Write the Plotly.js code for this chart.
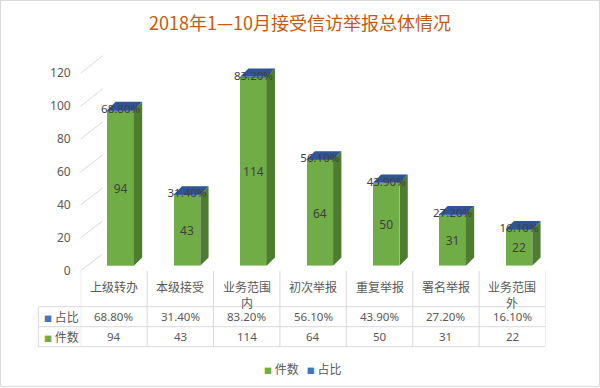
<!DOCTYPE html>
<html><head><meta charset="utf-8">
<script src="https://cdn.plot.ly/plotly-3.0.1.min.js"></script>
<style>html,body{margin:0;padding:0;background:#fff}</style>
</head><body><div id="chart" style="width:600px;height:388px"></div>
<script>
// ---- data ----
const categories = ['上级转办','本级接受','业务范围内','初次举报','重复举报','署名举报','业务范围外'];
const categoryLabels = ['上级转办','本级接受','业务范围<br>内','初次举报','重复举报','署名举报','业务范围<br>外'];
const counts = [94, 43, 114, 64, 50, 31, 22];
const sharePct = [68.8, 31.4, 83.2, 56.1, 43.9, 27.2, 16.1];
const yTicks = [0, 20, 40, 60, 80, 100, 120];
const seriesNames = ['件数', '占比'];
const titleText = '2018年1—10月接受信访举报总体情况';

// ---- styling / geometry ----
const W = 600, H = 388;
const fx = p => p / W, fy = p => 1 - p / H;
const GREEN = '#70AD47', GREEN_SIDE = '#4E7D31', BLUE = '#4472C4', BLUE_TOP = '#2F5597';
const GRID = '#D9D9D9', TXT = '#595959', DARK = '#404040';
const NUMFONT = 'Noto Sans, Noto Sans CJK SC, sans-serif';
const CJKFONT = 'Noto Sans CJK SC, sans-serif';
const N = categories.length;
const COLW = 66.4;
// planes (pixel origin of value 0 / left edge, and scale px per unit)
const front = {x0: 80.7, y0: 270.7, s: 1.645};
const bar = {x0: 87.4, y0: 265.7, s: 1.645};
const back = {x0: 102.7, y0: 254.0, s: 1.6525};
const R = 125;
const dom = p => ({x: [fx(p.x0), fx(p.x0 + COLW * N)], y: [fy(p.y0), fy(p.y0 - p.s * R)]});
const dFront = dom(front), dBar = dom(bar), dBack = dom(back);
const barW = 0.4;
const dxu = 8.3 / COLW, dyu = 8.3 / bar.s;

const shares = sharePct.map(v => v / 100);
const totals = counts.map((c, i) => c + shares[i]);
const idx = categories.map((_, i) => i);

const traces = [];
// side faces and top faces (3D look)
idx.forEach(i => {
  const xr = i + barW / 2, xl = i - barW / 2, t = totals[i];
  traces.push({type: 'scatter', xaxis: 'x2', yaxis: 'y2', mode: 'lines', fill: 'toself',
    x: [xr, xr + dxu, xr + dxu, xr, xr], y: [0, dyu, t + dyu, t, 0],
    fillcolor: GREEN_SIDE, line: {width: 0}, showlegend: false, hoverinfo: 'skip'});
  traces.push({type: 'scatter', xaxis: 'x2', yaxis: 'y2', mode: 'lines', fill: 'toself',
    x: [xl, xr, xr + dxu, xl + dxu, xl], y: [t, t, t + dyu, t + dyu, t],
    fillcolor: BLUE_TOP, line: {width: 0}, showlegend: false, hoverinfo: 'skip'});
});
// front faces
traces.push({type: 'bar', name: seriesNames[0], xaxis: 'x2', yaxis: 'y2', x: idx, y: counts,
  width: barW, marker: {color: GREEN, line: {width: 0}}, text: counts.map(String),
  textposition: 'inside', insidetextanchor: 'middle', constraintext: 'none', textangle: 0,
  textfont: {family: NUMFONT, size: 12, color: DARK}, showlegend: false, hoverinfo: 'skip'});
traces.push({type: 'bar', name: seriesNames[1], xaxis: 'x2', yaxis: 'y2', x: idx, y: shares,
  width: barW, marker: {color: BLUE, line: {width: 0}}, showlegend: false, hoverinfo: 'skip'});
// percent labels on bar tops
traces.push({type: 'scatter', mode: 'text', xaxis: 'x2', yaxis: 'y2', x: idx, y: totals,
  text: sharePct.map(v => v.toFixed(2) + '%'), textposition: 'middle center', cliponaxis: false,
  textfont: {family: NUMFONT, size: 11.5, color: DARK}, showlegend: false, hoverinfo: 'skip'});

const hidden = {visible: false, fixedrange: true};
const shapes = [];
// outer border
shapes.push({type: 'rect', xref: 'paper', yref: 'paper', x0: fx(0.5), x1: fx(599.5), y0: fy(0.5), y1: fy(386.5),
  line: {color: GRID, width: 1}, layer: 'below'});
// diagonals joining front plane and back wall
yTicks.forEach(v => {
  shapes.push({type: 'line', xref: 'paper', yref: 'paper', layer: 'below',
    x0: fx(front.x0), y0: fy(front.y0 - front.s * v), x1: fx(back.x0), y1: fy(back.y0 - back.s * v),
    line: {color: GRID, width: 1}});
});
// data table grid
const rowLines = [306.7, 326.7, 346.7];
rowLines.forEach(y => shapes.push({type: 'line', xref: 'paper', yref: 'paper', x0: fx(38.3), x1: fx(front.x0 + COLW * N),
  y0: fy(y), y1: fy(y), line: {color: GRID, width: 1}}));
for (let k = 0; k <= N; k++) {
  shapes.push({type: 'line', xref: 'x3', yref: 'paper', x0: k - 0.5, x1: k - 0.5, y0: fy(271), y1: fy(346.7),
    line: {color: GRID, width: 1}});
}
shapes.push({type: 'line', xref: 'paper', yref: 'paper', x0: fx(38.3), x1: fx(38.3), y0: fy(306.7), y1: fy(346.7),
  line: {color: GRID, width: 1}});

const ann = [];
idx.forEach(i => {
  ann.push({xref: 'x3', yref: 'paper', x: i, y: fy(276), yanchor: 'top', showarrow: false,
    text: categoryLabels[i], font: {family: CJKFONT, size: 12, color: TXT}});
  ann.push({xref: 'x3', yref: 'paper', x: i, y: fy(316.7), yanchor: 'middle', showarrow: false,
    text: sharePct[i].toFixed(2) + '%', font: {family: NUMFONT, size: 11.5, color: TXT}});
  ann.push({xref: 'x3', yref: 'paper', x: i, y: fy(336.7), yanchor: 'middle', showarrow: false,
    text: String(counts[i]), font: {family: NUMFONT, size: 11.5, color: TXT}});
});
const sq = c => `<span style="color:${c};font-size:8px">■</span>`;
ann.push({xref: 'paper', yref: 'paper', x: fx(41.5), y: fy(316.7), xanchor: 'left', yanchor: 'middle', showarrow: false,
  text: sq(BLUE) + ' ' + seriesNames[1], font: {family: CJKFONT, size: 12, color: TXT}});
ann.push({xref: 'paper', yref: 'paper', x: fx(41.5), y: fy(336.7), xanchor: 'left', yanchor: 'middle', showarrow: false,
  text: sq(GREEN) + ' ' + seriesNames[0], font: {family: CJKFONT, size: 12, color: TXT}});
// bottom legend
ann.push({xref: 'paper', yref: 'paper', x: fx(302.5), y: fy(368.3), xanchor: 'center', yanchor: 'middle', showarrow: false,
  text: sq(GREEN) + ' ' + seriesNames[0] + '   ' + sq(BLUE) + ' ' + seriesNames[1],
  font: {family: CJKFONT, size: 12, color: TXT}});

const layout = {
  width: W, height: H, margin: {l: 0, r: 0, t: 0, b: 0},
  paper_bgcolor: '#fff', plot_bgcolor: 'rgba(0,0,0,0)',
  showlegend: false, barmode: 'stack', hovermode: false,
  title: {text: titleText, x: 0.5, xanchor: 'center', y: fy(23.3), yanchor: 'middle',
    font: {family: CJKFONT, size: 18, color: '#C55A11'}},
  // back wall (grid)
  xaxis: {domain: dBack.x, range: [-0.5, N - 0.5], visible: false, fixedrange: true},
  yaxis: {domain: dBack.y, range: [0, R], dtick: 20, tick0: 0, showgrid: true, gridcolor: GRID, gridwidth: 1,
    zeroline: true, zerolinecolor: GRID, zerolinewidth: 1, showticklabels: false, ticks: '', showline: false, fixedrange: true},
  // bars
  xaxis2: {domain: dBar.x, range: [-0.5, N - 0.5], anchor: 'y2', visible: false, fixedrange: true},
  yaxis2: {domain: dBar.y, range: [0, R], anchor: 'x2', visible: false, fixedrange: true},
  // front plane (tick labels, table columns)
  xaxis3: {domain: dFront.x, range: [-0.5, N - 0.5], anchor: 'y3', visible: false, fixedrange: true},
  yaxis3: {domain: dFront.y, range: [0, R], anchor: 'x3', tickvals: yTicks, ticktext: yTicks.map(String),
    showgrid: false, zeroline: false, showline: false, ticks: '', ticklabelstandoff: 9,
    tickfont: {family: NUMFONT, size: 12, color: TXT}, fixedrange: true},
  shapes: shapes, annotations: ann
};
Plotly.newPlot('chart', traces, layout, {staticPlot: true, displayModeBar: false});
</script></body></html>
